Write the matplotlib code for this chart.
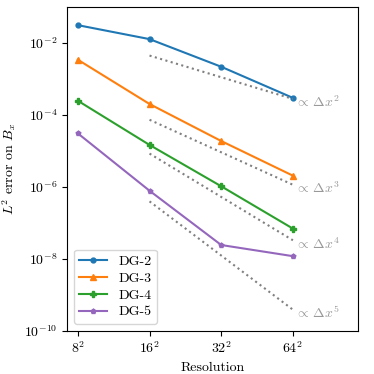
import matplotlib
matplotlib.use('Agg')
import matplotlib.pyplot as plt
import numpy as np

plt.rcParams['font.family'] = 'serif'
plt.rcParams['font.serif'] = ['cmr10', 'DejaVu Serif']
plt.rcParams['mathtext.fontset'] = 'cm'
plt.rcParams['axes.formatter.use_mathtext'] = True
plt.rcParams['font.size'] = 10

res = [8, 16, 32, 64]
res_labels = [r'$8^2$', r'$16^2$', r'$32^2$', r'$64^2$']

dg2 = [3.15e-2, 1.29e-2, 2.2e-3, 3.0e-4]
dg3 = [3.45e-3, 2.03e-4, 1.9e-5, 2.07e-6]
dg4 = [2.5e-4, 1.48e-5, 1.05e-6, 7.0e-8]
dg5 = [3.1e-5, 7.9e-7, 2.45e-8, 1.2e-8]

# reference slopes: (order, value at 16)
ref_orders = [2, 3, 4, 5]
ref_start = [4.5e-3, 7.4e-5, 8.5e-6, 4.0e-7]

fig = plt.figure(figsize=(3.74, 3.74), dpi=100)
ax = fig.add_axes([0.179, 0.115, 0.778, 0.866])

ms = 3.5
ax.plot(res, dg2, marker='o', ms=ms, label='DG-2', color='tab:blue')
ax.plot(res, dg3, marker='^', ms=ms+0.5, label='DG-3', color='tab:orange')
ax.plot(res, dg4, marker='P', ms=ms+0.5, label='DG-4', color='tab:green')
ax.plot(res, dg5, marker='p', ms=ms, label='DG-5', color='tab:purple')

xr = np.array([16, 64])
for p, y0 in zip(ref_orders, ref_start):
    yr = y0 * (xr / 16.0) ** (-p)
    ax.plot(xr, yr, ':', color='gray')
    ax.text(65.3, yr[-1] * 0.8, r'${\propto}\,\Delta x^{%d}$' % p, color='0.6',
            ha='left', va='center')

ax.set_xscale('log')
ax.set_yscale('log')
ax.set_xlim(7.2, 120)
ax.set_ylim(1e-10, 1e-1)
ax.set_xticks(res)
ax.set_xticklabels(res_labels)
ax.minorticks_off()
ax.set_yticks([1e-10, 1e-8, 1e-6, 1e-4, 1e-2])
ax.set_xlabel('Resolution')
ax.set_ylabel(r'$L^2$ error on $B_x$')
ax.legend(loc='lower left', labelspacing=0.3)

fig.savefig('out.png', dpi=100)
